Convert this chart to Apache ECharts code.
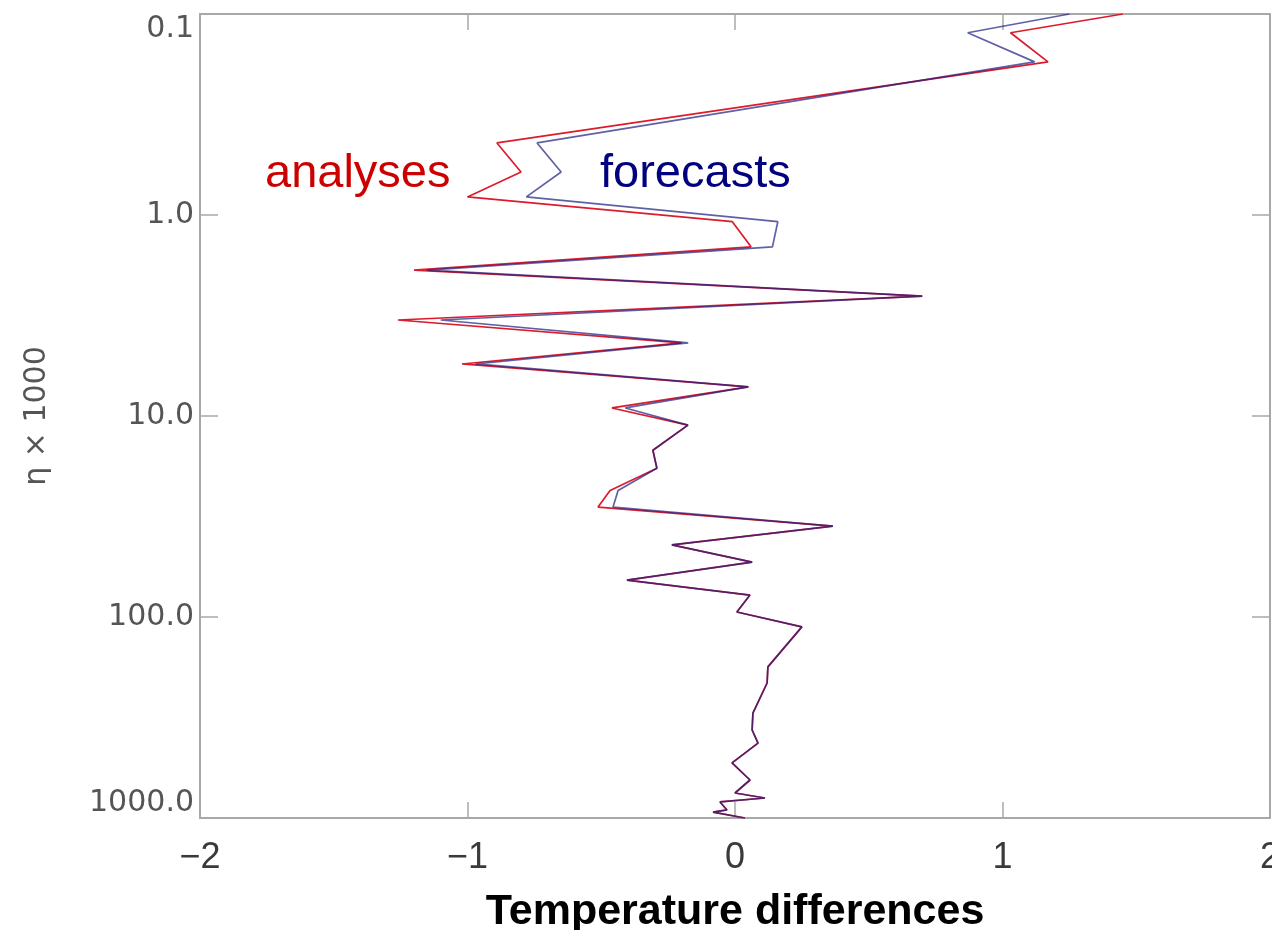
<!DOCTYPE html>
<html>
<head>
<meta charset="utf-8">
<script src="https://cdn.jsdelivr.net/npm/echarts@6/dist/echarts.min.js"></script>
<style>
  html, body { margin: 0; padding: 0; background: #ffffff; }
  #chart { width: 1272px; height: 930px; }
</style>
</head>
<body>
<div id="chart"></div>
<script>
// eta x 1000 levels (vertical, log axis)
const eta = [0.1, 0.124, 0.173, 0.438, 0.611, 0.813, 1.08, 1.44, 1.88, 2.53,
             3.33, 4.33, 5.51, 7.17, 9.12, 11.1, 14.8, 18.2, 23.5, 28.4,
             35.3, 43.8, 53.3, 65.5, 77.8, 94.4, 112, 177, 213, 301,
             365, 424, 532, 647, 751, 795, 832, 912, 934, 1000];
// temperature differences, forecasts
const forecasts = [1.25, 0.87, 1.12, -0.74, -0.65, -0.78, 0.16, 0.14, -1.15, 0.70,
                   -1.10, -0.175, -0.97, 0.05, -0.41, -0.176, -0.307, -0.292, -0.437, -0.456,
                   0.366, -0.236, 0.064, -0.404, 0.056, 0.007, 0.25, 0.123, 0.12, 0.067,
                   0.064, 0.086, -0.011, 0.056, 0.0, 0.112, -0.056, -0.03, -0.082, 0.037];
// temperature differences, analyses
const analyses = [1.45, 1.03, 1.17, -0.89, -0.80, -1.0, -0.01, 0.06, -1.2, 0.70,
                  -1.26, -0.2, -1.02, 0.05, -0.46, -0.176, -0.307, -0.292, -0.467, -0.512,
                  0.366, -0.236, 0.064, -0.404, 0.056, 0.007, 0.25, 0.123, 0.12, 0.067,
                  0.064, 0.086, -0.011, 0.056, 0.0, 0.112, -0.056, -0.03, -0.082, 0.037];
const xTicks = [-2, -1, 0, 1, 2];
const yTicks = [0.1, 1, 10, 100, 1000];
const labelA = 'analyses';
const labelF = 'forecasts';
const xTitle = 'Temperature differences';
const yTitle = 'η × 1000';

const chart = echarts.init(document.getElementById('chart'));
const axisGrey = '#a8a8a8';

const xBase = {
  type: 'value', min: xTicks[0], max: xTicks[xTicks.length - 1], interval: 1,
  axisLine: { show: true, onZero: false, lineStyle: { color: axisGrey, width: 2 } },
  axisTick: { show: true, inside: true, length: 16, lineStyle: { color: axisGrey, width: 1.5 } },
  splitLine: { show: false }
};
const yBase = {
  type: 'log', logBase: 10, min: yTicks[0], max: yTicks[yTicks.length - 1], inverse: true,
  axisLine: { show: true, onZero: false, lineStyle: { color: axisGrey, width: 2 } },
  axisTick: { show: true, inside: true, length: 18, lineStyle: { color: axisGrey, width: 1.5 } },
  minorTick: { show: false },
  splitLine: { show: false }
};

chart.setOption({
  animation: false,
  backgroundColor: '#ffffff',
  grid: { left: 200, right: 2, top: 14, bottom: 112, containLabel: false, outerBoundsMode: 'none' },
  xAxis: [
    Object.assign({}, xBase, {
      position: 'bottom',
      name: xTitle, nameLocation: 'middle', nameGap: 73,
      nameTextStyle: { fontFamily: 'Liberation Sans, Arial', fontWeight: 'bold', fontSize: 43, color: '#000' },
      axisLabel: {
        margin: 22, fontFamily: 'Liberation Sans Narrow, Liberation Sans', fontSize: 36, color: '#3a3a3a',
        formatter: v => (v < 0 ? '\u2212' + Math.abs(v) : String(v))
      }
    }),
    Object.assign({}, xBase, { position: 'top', axisLabel: { show: false } })
  ],
  yAxis: [
    Object.assign({}, yBase, {
      position: 'left',
      name: yTitle, nameLocation: 'middle', nameGap: 148, nameRotate: 90,
      nameTextStyle: { fontFamily: 'DejaVu Sans', fontSize: 30, color: '#555' },
      axisLabel: {
        margin: 6, fontFamily: 'DejaVu Sans', fontSize: 30, color: '#555',
        verticalAlignMinLabel: 'top', verticalAlignMaxLabel: 'bottom',
        formatter: v => Number(v).toFixed(1)
      }
    }),
    Object.assign({}, yBase, { position: 'right', axisLabel: { show: false } })
  ],
  series: [
    {
      name: labelA, type: 'line', xAxisIndex: 0, yAxisIndex: 0, clip: true,
      symbol: 'none', lineStyle: { color: '#dc1c2c', width: 1.7 },
      data: eta.map((e, i) => [analyses[i], e]), z: 2
    },
    {
      name: labelF, type: 'line', xAxisIndex: 0, yAxisIndex: 0, clip: true,
      symbol: 'none', lineStyle: { color: '#1c1c80', width: 1.7, opacity: 0.7 },
      data: eta.map((e, i) => [forecasts[i], e]), z: 3
    }
  ],
  graphic: [
    { type: 'text', left: 265, top: 151, style: { text: labelA, fontFamily: 'Liberation Sans, Arial', fontSize: 47, fill: '#cc0000' } },
    { type: 'text', left: 600, top: 151, style: { text: labelF, fontFamily: 'Liberation Sans, Arial', fontSize: 47, fill: '#000080' } }
  ]
});
</script>
</body>
</html>
